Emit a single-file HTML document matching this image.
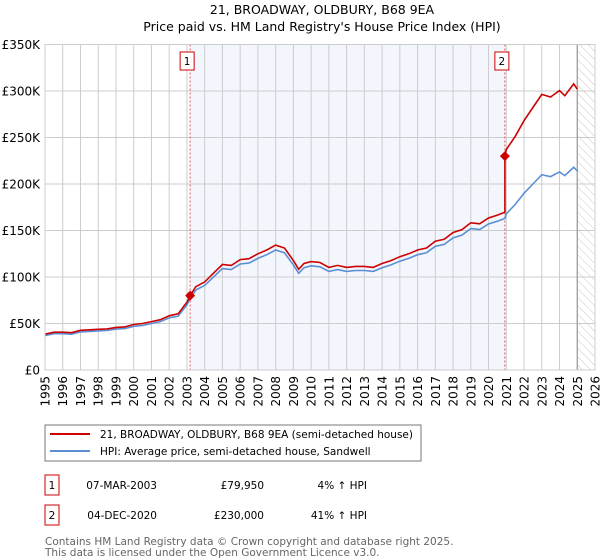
<!DOCTYPE html>
<html><head><meta charset="utf-8"><style>
body{margin:0;background:#fff;font-family:"DejaVu Sans","Liberation Sans",sans-serif;}
svg{display:block}
</style></head><body>
<svg id="c" width="600" height="560" xmlns="http://www.w3.org/2000/svg" font-family="DejaVu Sans, Liberation Sans, sans-serif">
<defs><pattern id="hatch" width="6" height="6" patternUnits="userSpaceOnUse" patternTransform="rotate(-45)"><line x1="0" y1="0" x2="0" y2="6" stroke="#bbb" stroke-width="0.8"/></pattern></defs>
<text x="322" y="14" font-size="12.5" text-anchor="middle">21, BROADWAY, OLDBURY, B68 9EA</text>
<text x="322" y="31" font-size="12.5" text-anchor="middle">Price paid vs. HM Land Registry's House Price Index (HPI)</text>
<g id="plot"></g>
<rect x="45" y="425" width="376" height="36" fill="#fff" stroke="#777"/>
<line x1="50" y1="434" x2="90" y2="434" stroke="#cc0000" stroke-width="2"/>
<text x="100" y="438" font-size="10.5">21, BROADWAY, OLDBURY, B68 9EA (semi-detached house)</text>
<line x1="50" y1="451" x2="90" y2="451" stroke="#5b8fd4" stroke-width="2"/>
<text x="100" y="455" font-size="10.5">HPI: Average price, semi-detached house, Sandwell</text>
<g font-size="10.5">
<rect x="45" y="475" width="14" height="20" fill="#fff" stroke="#cc0000"/>
<text x="52" y="489" text-anchor="middle">1</text>
<text x="157" y="489" text-anchor="end">07-MAR-2003</text>
<text x="264" y="489" text-anchor="end">£79,950</text>
<text x="367" y="489" text-anchor="end">4% ↑ HPI</text>
<rect x="45" y="505" width="14" height="20" fill="#fff" stroke="#cc0000"/>
<text x="52" y="519" text-anchor="middle">2</text>
<text x="157" y="519" text-anchor="end">04-DEC-2020</text>
<text x="264" y="519" text-anchor="end">£230,000</text>
<text x="367" y="519" text-anchor="end">41% ↑ HPI</text>
</g>
<text x="45" y="545" font-size="10.5" fill="#666">Contains HM Land Registry data © Crown copyright and database right 2025.</text>
<text x="45" y="556" font-size="10.5" fill="#666">This data is licensed under the Open Government Licence v3.0.</text>
</svg>
<script>
const hpiYears=[1995,1995.5,1996,1996.5,1997,1997.5,1998,1998.5,1999,1999.5,2000,2000.5,2001,2001.5,2002,2002.5,2003,2003.18,2003.5,2004,2004.5,2005,2005.5,2006,2006.5,2007,2007.5,2008,2008.5,2009,2009.3,2009.6,2010,2010.5,2011,2011.5,2012,2012.5,2013,2013.5,2014,2014.5,2015,2015.5,2016,2016.5,2017,2017.5,2018,2018.5,2019,2019.5,2020,2020.5,2020.92,2021,2021.5,2022,2022.5,2023,2023.5,2024,2024.3,2024.8,2025];
const hpiValues=[37,39,39,38.5,41,41.5,42,42.5,44,44.5,47,48,50,52,56,58,70,76.8,86,91,100,109,108,114,115,120,124,129,126,113,104,110,112,111,106,108,106,107,107,106,110,113,117,120,124,126,133,135,142,145,152,151,157,160,163,168,178,190,200,210,208,213,209,218,214];
const sales=[{label:"1",year:2003.18,price:79.95},{label:"2",year:2020.92,price:230}];
const yTicks=[0,50,100,150,200,250,300,350];
const yTickLabels=["£0","£50K","£100K","£150K","£200K","£250K","£300K","£350K"];
const xTicks=[1995,1996,1997,1998,1999,2000,2001,2002,2003,2004,2005,2006,2007,2008,2009,2010,2011,2012,2013,2014,2015,2016,2017,2018,2019,2020,2021,2022,2023,2024,2025,2026];

const NS="http://www.w3.org/2000/svg";
const X0=45,X1=595,Y0=370,Y1=44.5;
const xs=y=>X0+(y-1995)/(2026-1995)*(X1-X0);
const ys=v=>Y0-v/350*(Y0-Y1);
const g=document.getElementById('plot');
function mk(t,a){const e=document.createElementNS(NS,t);for(const k in a)e.setAttribute(k,a[k]);g.appendChild(e);return e;}
let e;
e=mk('rect',{x:xs(sales[0].year),y:Y1,width:xs(sales[1].year)-xs(sales[0].year),height:Y0-Y1,fill:'#f3f6fd'});


e=mk('rect',{x:xs(2025),y:Y1,width:X1-xs(2025),height:Y0-Y1,fill:'url(#hatch)'});


xTicks.forEach(t=>{
 e=mk('line',{x1:xs(t),x2:xs(t),y1:Y1,y2:Y0,stroke:'#ccc','stroke-width':1});
 
 
 e=mk('text',{x:0,y:0,'font-size':12,'text-anchor':'end',transform:`translate(${xs(t)+4.5},${Y0+6}) rotate(-90)`});
 e.textContent=t;
 
 
});
yTicks.forEach((t,i)=>{
 e=mk('line',{x1:X0,x2:X1,y1:ys(t),y2:ys(t),stroke:'#ccc','stroke-width':1});
 
 
 e=mk('text',{x:X0-5,y:ys(t)+4.5,'font-size':12,'text-anchor':'end'});
 e.textContent=yTickLabels[i];
 
 
});
e=mk('line',{x1:xs(2025),x2:xs(2025),y1:Y1,y2:Y0,stroke:'#999','stroke-width':1.2});


sales.forEach(s=>{
 e=mk('line',{x1:xs(s.year),x2:xs(s.year),y1:Y1,y2:Y0,stroke:'#e05555','stroke-width':1,'stroke-dasharray':'2,2'});
 
 
});
const hp=hpiYears.map((y,i)=>xs(y).toFixed(1)+','+ys(hpiValues[i]).toFixed(1)).join(' ');
e=mk('polyline',{points:hp,fill:'none',stroke:'#5b8fd4','stroke-width':1.6});


function hpiAt(y){for(let i=1;i<hpiYears.length;i++){if(y<=hpiYears[i]){const f=(y-hpiYears[i-1])/(hpiYears[i]-hpiYears[i-1]);return hpiValues[i-1]+f*(hpiValues[i]-hpiValues[i-1]);}}return hpiValues[hpiValues.length-1];}
const r1=sales[0].price/hpiAt(sales[0].year),r2=sales[1].price/hpiAt(sales[1].year);
const pts=[];
hpiYears.forEach((y,i)=>{
 if(y<sales[1].year) pts.push([y,hpiValues[i]*r1]);
 else if(y===sales[1].year){pts.push([y,hpiValues[i]*r1]);pts.push([y,hpiValues[i]*r2]);}
 else pts.push([y,hpiValues[i]*r2]);
});
e=mk('polyline',{points:pts.map(p=>xs(p[0]).toFixed(1)+','+ys(p[1]).toFixed(1)).join(' '),fill:'none',stroke:'#cc0000','stroke-width':1.6});


sales.forEach(s=>{
 const cx=xs(s.year),cy=ys(s.price);
 e=mk('polygon',{points:`${cx},${cy-5} ${cx+5},${cy} ${cx},${cy+5} ${cx-5},${cy}`,fill:'#cc0000'});
 
 
 e=mk('rect',{x:cx-10,y:52,width:14,height:18,fill:'#fff',stroke:'#cc0000'});
 
 
 e=mk('text',{x:cx-3,y:65,'font-size':10.5,'text-anchor':'middle'});
 e.textContent=s.label;
 
 
});
e=mk('rect',{x:X0,y:Y1,width:X1-X0,height:Y0-Y1,fill:'none',stroke:'#ccc'});


</script>
</body></html>
